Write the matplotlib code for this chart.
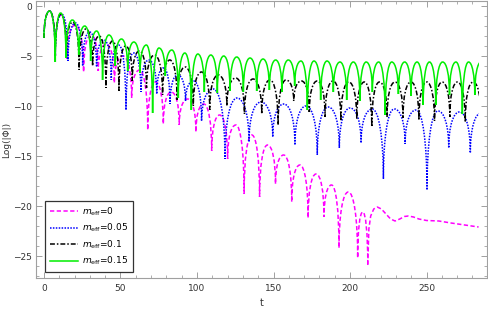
import matplotlib
matplotlib.use('Agg')
import matplotlib.pyplot as plt
from matplotlib.path import Path
from matplotlib.patches import PathPatch, Rectangle
from matplotlib.lines import Line2D
from matplotlib.ticker import MultipleLocator

# values: time of each zero (dip) of Phi, log depth at
# the dip, and log height of the lobe between two neighbouring dips
g_dip_t = [0, 7.4, 14.4, 22.7, 30.5, 38.3, 46.6, 54.7, 62.8, 71.0, 79.3, 87.8,
           96.3, 104.8, 113.3, 121.6, 130.3, 139.0, 147.3, 155.5, 163.8, 172.1,
           180.8, 189.1, 197.8, 206.5, 214.6, 222.9, 231.6, 239.8, 247.8, 256.0,
           265.0, 273.4, 281.5, 289.8]
g_dip_y = [-3.2, -5.6, -5.2, -4.9, -5.5, -7.4, -6.0, -6.5, -6.7, -10.7, -7.0, -9.2,
           -10.4, -8.6, -8.7, -8.5, -8.6, -8.5, -8.4, -8.6, -8.0, -10.4,
           -9.4, -8.6, -9.4, -9.5, -8.6, -10.9, -8.8, -9.0, -9.9, -9.9,
           -8.9, -10.8, -8.9, -9.0]
g_peak_y = [-0.5, -0.7, -1.4, -2.0, -2.5, -2.9, -3.3, -3.6, -3.9, -4.2, -4.4, -4.7,
            -4.8, -4.9, -5.0, -5.1, -5.2, -5.3, -5.4, -5.4, -5.5, -5.5, -5.5,
            -5.6, -5.6, -5.6, -5.6, -5.6, -5.6, -5.6, -5.6, -5.6, -5.6, -5.6, -5.6]

k_dip_t = [0, 7.4, 14.6, 23.0, 31.8, 40.5, 49.0, 57.7, 67.0, 77.5, 87.0, 97.6,
           108.3, 119.5, 131.0, 142.3, 153.0, 163.2, 173.4, 183.7, 194.0, 204.4,
           214.2, 224.2, 234.6, 245.0, 255.2, 265.2, 275.3, 285.5]
k_dip_y = [-3.2, -5.0, -5.0, -6.4, -6.0, -8.2, -8.5, -7.5, -8.2, -8.9, -9.4, -10.0,
           -10.4, -10.0, -10.8, -10.8, -11.9, -9.5, -10.6, -11.1, -11.5, -11.3,
           -12.1, -11.1, -11.2, -11.4, -11.5, -11.1, -11.6, -11.0]
k_peak_y = [-0.5, -0.8, -1.6, -2.3, -3.0, -3.5, -4.0, -4.5, -4.9, -5.4, -6.1,
            -6.6, -6.9, -7.2, -7.3, -7.4, -7.4, -7.5, -7.5, -7.5, -7.6, -7.6,
            -7.6, -7.6, -7.6, -7.6, -7.6, -7.6, -7.6]

b_dip_t = [0, 7.4, 15.7, 25.3, 34.4, 44.0, 53.6, 63.4, 73.7, 82.4, 92.5, 103.0,
           118.3, 134.0, 149.5, 164.0, 178.6, 193.0, 207.2, 221.8, 236.0, 250.3,
           264.5, 278.6, 292.8]
b_dip_y = [-3.2, -5.0, -5.5, -6.0, -6.1, -7.4, -10.4, -8.6, -8.8, -9.8, -9.5, -11.5,
           -15.3, -13.6, -13.1, -13.9, -14.9, -14.2, -13.7, -17.3, -13.8, -18.4,
           -14.2, -14.7, -14.0]
b_peak_y = [-0.5, -0.8, -1.7, -2.6, -3.4, -3.9, -4.7, -5.4, -6.2, -6.9, -7.5,
            -8.3, -9.2, -9.6, -9.8, -10.0, -10.1, -10.2, -10.3, -10.3, -10.4,
            -10.5, -10.6, -10.7]

m_dip_t = [0, 7.4, 15.0, 25.9, 35.5, 46.0, 57.3, 67.8, 78.0, 88.4, 99.3, 109.6,
           120.0, 130.8, 140.9, 151.3, 161.9, 172.6, 183.0, 192.8, 205.0, 211.6]
m_dip_y = [-3.2, -5.0, -5.3, -6.6, -6.5, -7.7, -9.2, -12.4, -11.8, -11.9, -12.6,
           -14.5, -15.3, -18.8, -19.1, -17.8, -19.6, -21.2, -21.1, -24.2, -25.2, -25.9]
m_peak_y = [-0.5, -0.9, -1.9, -2.9, -3.8, -5.0, -6.4, -7.6, -8.6, -9.3, -9.8,
            -10.9, -11.9, -12.9, -13.9, -14.9, -15.9, -16.8, -17.9, -18.6, -20.6]
# smooth late-time tail of the massless field
m_tail_t = [211.6, 212.3, 213.5, 215.5, 217.8, 220.5, 223.5, 226.5, 229.4, 232.5,
            235.5, 238.1, 241.5, 245.0, 250.0, 258.0, 266.0, 275.0, 284.0]
m_tail_y = [-25.9, -22.3, -21.0, -20.3, -20.1, -20.3, -20.8, -21.3, -21.5, -21.3,
            -21.05, -21.0, -21.1, -21.3, -21.45, -21.5, -21.7, -21.9, -22.1]

t_end = 284.3
labels = ['$m_{\\rm eff}$=0', '$m_{\\rm eff}$=0.05', '$m_{\\rm eff}$=0.1', '$m_{\\rm eff}$=0.15']

plt.rcParams['font.family'] = 'DejaVu Sans'
plt.rcParams['mathtext.fontset'] = 'dejavusans'

fig = plt.figure(figsize=(4.88, 3.09), dpi=100)
ax = fig.add_axes([36 / 488, 31 / 309, 451 / 488, 277 / 309])


def draw_lobes(dip_t, dip_y, peak_y, color, ls, lw=1.1):
    # each lobe: rounded arch (two quarter ellipses) from one dip to the next
    verts = [(dip_t[0], dip_y[0])]
    codes = [Path.MOVETO]
    for i in range(len(peak_y)):
        a, b, p = dip_t[i], dip_t[i + 1], peak_y[i]
        ya, yb = dip_y[i], dip_y[i + 1]
        m = 0.5 * (a + b)
        verts += [(a, ya + 0.6 * (p - ya)), (a + 0.42 * (m - a), p), (m, p)]
        verts += [(b - 0.42 * (b - m), p), (b, yb + 0.6 * (p - yb)), (b, yb)]
        codes += [Path.CURVE4] * 6
    patch = PathPatch(Path(verts, codes), fill=False, edgecolor=color,
                      linestyle=ls, linewidth=lw, capstyle='butt')
    ax.add_patch(patch)
    clip = Rectangle((-1, -40), t_end + 1, 50, transform=ax.transData)
    patch.set_clip_path(clip)


styles = [('#ff00ff', (0, (2.8, 1.6))),
          ('#0000ff', (0, (1.0, 0.9))),
          ('#000000', (0, (3.2, 1.3, 1.0, 1.3))),
          ('#00ee00', '-')]

draw_lobes(m_dip_t, m_dip_y, m_peak_y, *styles[0])
ax.plot(m_tail_t, m_tail_y, color=styles[0][0], linestyle=styles[0][1], lw=1.1)
draw_lobes(b_dip_t, b_dip_y, b_peak_y, *styles[1])
draw_lobes(k_dip_t, k_dip_y, k_peak_y, *styles[2])
draw_lobes(g_dip_t, g_dip_y, g_peak_y, *styles[3])

ax.set_xlim(-5.2, 289.5)
ax.set_ylim(-27.2, 0.5)

frame = '#a0a0a0'
for s in ax.spines.values():
    s.set_color(frame)
    s.set_linewidth(0.8)
ax.xaxis.set_major_locator(MultipleLocator(50))
ax.xaxis.set_minor_locator(MultipleLocator(10))
ax.yaxis.set_major_locator(MultipleLocator(5))
ax.yaxis.set_minor_locator(MultipleLocator(1))
ax.tick_params(which='both', direction='in', top=True, right=True, color=frame,
               labelsize=6.5, labelcolor='#333333')
ax.tick_params(which='major', length=4, width=0.7)
ax.tick_params(which='minor', length=2, width=0.6)
ax.tick_params(axis='x', pad=4)
ax.tick_params(axis='y', pad=3)

ax.set_xlabel('t', fontsize=7, color='#333333', labelpad=4)
ax.set_ylabel('Log(|Φ|)', fontsize=6.5, color='#333333', labelpad=1.5)

handles = [Line2D([], [], color=c, linestyle=l, lw=1.1) for c, l in styles]
leg = ax.legend(handles, labels, loc='lower left', bbox_to_anchor=(0.02, 0.022),
                fontsize=6.5, frameon=True, fancybox=False, handlelength=3.1,
                borderpad=0.5, labelspacing=0.45, handletextpad=0.5,
                borderaxespad=0)
leg.get_frame().set_edgecolor('black')
leg.get_frame().set_linewidth(0.9)

fig.savefig('out.png', dpi=100)
